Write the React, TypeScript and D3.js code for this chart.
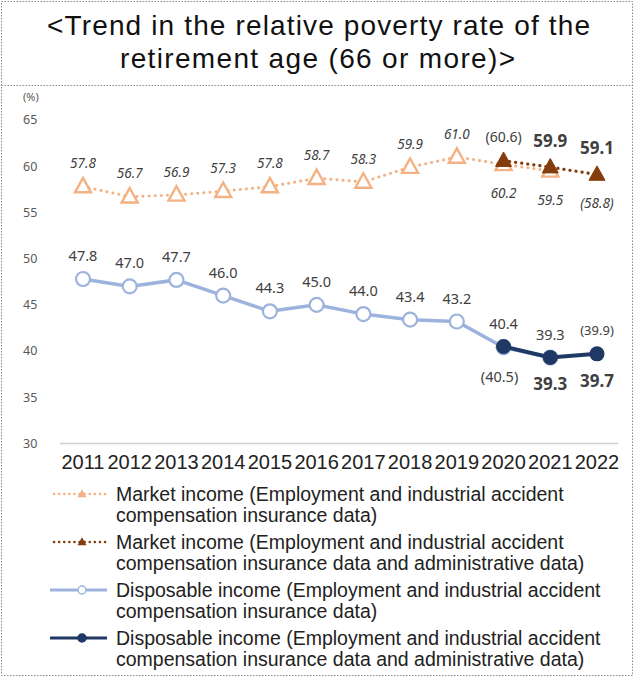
import React from 'react';
import * as d3 from 'd3';

const years = ['2011','2012','2013','2014','2015','2016','2017','2018','2019','2020','2021','2022'];
const yTicks = [30, 35, 40, 45, 50, 55, 60, 65];
// base = Employment and industrial accident compensation insurance data
// admin = ... and administrative data
const marketBase = [57.8, 56.7, 56.9, 57.3, 57.8, 58.7, 58.3, 59.9, 61.0, 60.2, 59.5, 58.8];
const marketAdmin = [null, null, null, null, null, null, null, null, null, 60.6, 59.9, 59.1];
const dispBase = [47.8, 47.0, 47.7, 46.0, 44.3, 45.0, 44.0, 43.4, 43.2, 40.4, 39.3, 39.9];
const dispAdmin = [null, null, null, null, null, null, null, null, null, 40.5, 39.3, 39.7];
// values shown in parentheses
const baseRefYear = '2022';
const adminRefYear = '2020';

const titleLines = ['<Trend in the relative poverty rate of the', 'retirement age (66 or more)>'];

const legendItems = [
  ['Market income (Employment and industrial accident', 'compensation insurance data)'],
  ['Market income (Employment and industrial accident', 'compensation insurance data and administrative data)'],
  ['Disposable income (Employment and industrial accident', 'compensation insurance data)'],
  ['Disposable income (Employment and industrial accident', 'compensation insurance data and administrative data)'],
];

const C = {
  mLight: '#F4B183',
  mDark: '#843C0C',
  dLight: '#9DB3DD',
  dDark: '#1F3864',
  text: '#404040',
  border: '#8a8a8a',
};

const W = 635, H = 677;
const numFont = '"Noto Sans", "DejaVu Sans", sans-serif';
const arial = '"Liberation Sans", Arial, sans-serif';

function tri(cx: number, cy: number, s: number) {
  const h = s * 0.9;
  return `M${cx},${cy - h * 0.6}L${cx + s / 2},${cy + h * 0.4}L${cx - s / 2},${cy + h * 0.4}Z`;
}

export default function App() {
  const x = d3.scalePoint<string>().domain(years).range([83, 597]);
  const y = d3.scaleLinear().domain([30, 65]).range([443.5, 120]);

  type P = { yr: string; v: number };
  const toPts = (arr: (number | null)[], skipRef?: string): P[] =>
    arr.map((v, i) => ({ yr: years[i], v: v as number }))
      .filter((p) => p.v != null && p.yr !== skipRef);

  const mB = toPts(marketBase, baseRefYear);
  const mA = toPts(marketAdmin);
  const dB = toPts(dispBase, baseRefYear);
  const dA = toPts(dispAdmin);

  const line = d3.line<P>().x((p) => x(p.yr)!).y((p) => y(p.v));

  const fmt = (v: number, paren: boolean) => (paren ? `(${v.toFixed(1)})` : v.toFixed(1));

  const anchorY = (yr: string, own: number | null, other: (number | null)[], i: number) =>
    y(own != null && !(yr === baseRefYear && other[i] != null) ? own : (other[i] as number));

  return (
    <svg width={W} height={H} style={{ position: 'absolute', left: 0, top: 0, display: 'block', background: '#fff' }}>
      {/* frame */}
      <rect x={1.5} y={1.5} width={W - 4} height={H - 3} fill="none" stroke={C.border} strokeWidth={1} strokeDasharray="1.5,1.5" />
      <line x1={1.5} x2={W - 2.5} y1={85.5} y2={85.5} stroke={C.border} strokeWidth={1} strokeDasharray="1.5,1.5" />
      {/* title */}
      <text x={47} y={35} fontFamily={arial} fontSize={28} fill="#111" textLength={543} lengthAdjust="spacing">
        {titleLines[0]}
      </text>
      <text x={120} y={68} fontFamily={arial} fontSize={28} fill="#111" textLength={395} lengthAdjust="spacing">
        {titleLines[1]}
      </text>

      {/* y axis labels */}
      <text x={23} y={101} fontFamily={numFont} fontSize={11} fill="#595959">(%)</text>
      {yTicks.map((t) => (
        <text key={t} x={23} y={y(t)} dy="0.35em" fontFamily={numFont} fontSize={12.5} fill="#595959">{t}</text>
      ))}
      {/* baseline */}
      <line x1={60} x2={618} y1={y(30)} y2={y(30)} stroke="#d0d0d0" strokeWidth={1.5} />
      {/* x labels */}
      {years.map((yr) => (
        <text key={yr} x={x(yr)} y={469} textAnchor="middle" fontFamily={arial} fontSize={20} fill="#222">{yr}</text>
      ))}

      {/* market income lines */}
      <path d={line(mB)!} fill="none" stroke={C.mLight} strokeWidth={3} strokeDasharray="0.1,6" strokeLinecap="round" />
      {mB.map((p) => (
        <path key={'mb' + p.yr} d={tri(x(p.yr)!, y(p.v), 16)} fill="#fff" stroke={C.mLight} strokeWidth={2.4} />
      ))}
      <path d={line(mA)!} fill="none" stroke={C.mDark} strokeWidth={3.2} strokeDasharray="0.1,6" strokeLinecap="round" />
      {mA.map((p) => (
        <path key={'ma' + p.yr} d={tri(x(p.yr)!, y(p.v), 16)} fill={C.mDark} stroke={C.mDark} strokeWidth={1} />
      ))}

      {/* disposable income lines */}
      <path d={line(dB)!} fill="none" stroke={C.dLight} strokeWidth={3.5} />
      {dB.map((p) => (
        <circle key={'db' + p.yr} cx={x(p.yr)} cy={y(p.v)} r={7} fill="#fff" stroke={C.dLight} strokeWidth={2.2} />
      ))}
      <path d={line(dA)!} fill="none" stroke={C.dDark} strokeWidth={4} />
      {dA.map((p) => (
        <circle key={'da' + p.yr} cx={x(p.yr)} cy={y(p.v)} r={7.5} fill={C.dDark} />
      ))}

      {/* market labels */}
      {marketBase.map((v, i) => {
        const yr = years[i];
        const paren = yr === baseRefYear;
        const below = i >= 9;
        const ay = anchorY(yr, v, marketAdmin, i);
        return (
          <text key={'mbl' + yr} x={x(yr)} y={ay + (below ? 29 : -23)} dy="0.35em" textAnchor="middle"
            fontFamily={numFont} fontStyle="italic" fontSize={13.5} fill={C.text}>{fmt(v, paren)}</text>
        );
      })}
      {marketAdmin.map((v, i) => {
        if (v == null) return null;
        const yr = years[i];
        const paren = yr === adminRefYear;
        return (
          <text key={'mal' + yr} x={x(yr)} y={y(v) + (paren ? -24 : -26)} dy="0.35em" textAnchor="middle"
            fontFamily={numFont} fontSize={paren ? 14 : 17} fontWeight={paren ? 400 : 700} fill={C.text}>{fmt(v, paren)}</text>
        );
      })}

      {/* disposable labels */}
      {dispBase.map((v, i) => {
        const yr = years[i];
        const paren = yr === baseRefYear;
        const ay = anchorY(yr, v, dispAdmin, i);
        return (
          <text key={'dbl' + yr} x={x(yr)} y={ay - 23} dy="0.35em" textAnchor="middle"
            fontFamily={numFont} fontSize={paren ? 13 : 14.5} fill={C.text}>{fmt(v, paren)}</text>
        );
      })}
      {dispAdmin.map((v, i) => {
        if (v == null) return null;
        const yr = years[i];
        const paren = yr === adminRefYear;
        return (
          <text key={'dal' + yr} x={x(yr)! + (paren ? -4 : 0)} y={y(v) + (paren ? 30 : 27)} dy="0.35em" textAnchor="middle"
            fontFamily={numFont} fontSize={paren ? 14.5 : 17} fontWeight={paren ? 400 : 700} fill={C.text}>{fmt(v, paren)}</text>
        );
      })}

      {/* legend */}
      {legendItems.map((lines, k) => {
        const base = 501 + k * 48;
        const cy = base - 7;
        const sx0 = 50, sx1 = 107, mx = 82;
        const isMarket = k < 2;
        const color = [C.mLight, C.mDark, C.dLight, C.dDark][k];
        return (
          <g key={'lg' + k}>
            {isMarket ? (
              <>
                <line x1={sx0 + 4} x2={sx1} y1={cy} y2={cy} stroke={color} strokeWidth={2.5} strokeDasharray="0.1,5" strokeLinecap="round" />
                <path d={tri(mx, cy, 9)} fill={color} />
              </>
            ) : (
              <>
                <line x1={sx0} x2={sx1} y1={cy} y2={cy} stroke={color} strokeWidth={3} />
                <circle cx={mx} cy={cy} r={4} fill={k === 2 ? '#fff' : color} stroke={color} strokeWidth={1.5} />
              </>
            )}
            <text x={116} y={base} fontFamily={arial} fontSize={19.5} fill="#222">{lines[0]}</text>
            <text x={116} y={base + 21} fontFamily={arial} fontSize={19.5} fill="#222">{lines[1]}</text>
          </g>
        );
      })}
    </svg>
  );
}
